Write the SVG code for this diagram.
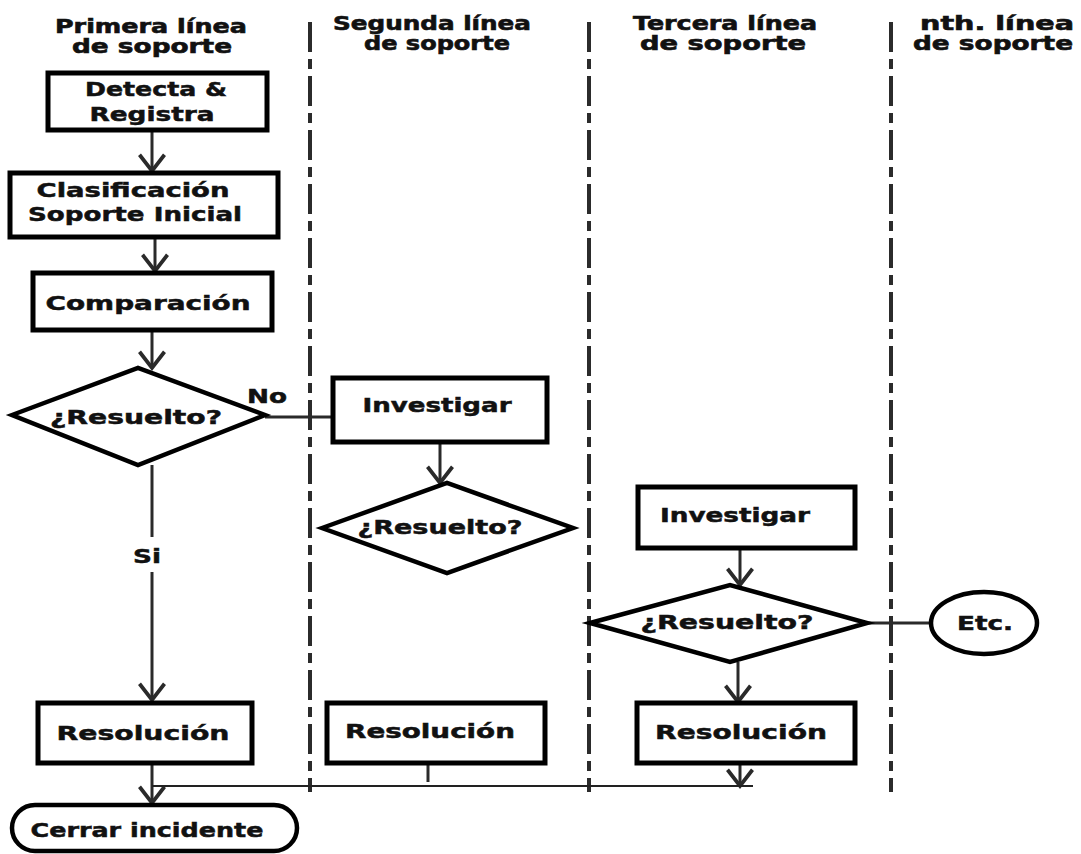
<svg xmlns="http://www.w3.org/2000/svg" width="1081" height="854" viewBox="0 0 1081 854">
  <style>
    .lane { stroke: #2b2b2b; stroke-width: 4; stroke-dasharray: 30 7 10 7; fill: none; }
    .hdr { font-family: "DejaVu Sans", "Liberation Sans", sans-serif; font-weight: bold; font-size: 19px; fill: #111; stroke: #111; stroke-width: 0.6; text-anchor: middle; }
    .lbl { font-family: "DejaVu Sans", "Liberation Sans", sans-serif; font-weight: bold; font-size: 20px; fill: #111; stroke: #111; stroke-width: 0.5; text-anchor: middle; }
    .box { fill: #fff; stroke: #000; stroke-width: 5; }
    .dia { fill: #fff; stroke: #000; stroke-width: 4.5; stroke-linejoin: miter; }
    .flow { stroke: #2a2a2a; stroke-width: 3; fill: none; }
    .thin { stroke: #222; stroke-width: 2; fill: none; }
  </style>
  <defs>
    <marker id="vhead" markerUnits="userSpaceOnUse" markerWidth="30" markerHeight="30" refX="0" refY="0" viewBox="-16 -12 20 24" orient="auto">
      <path d="M -13,-10 L 0,0 L -13,10" fill="none" stroke="#2a2a2a" stroke-width="3"/>
    </marker>
  </defs>

  <rect width="1081" height="854" fill="#fff"/>

  <!-- swimlane separators -->
  <g id="lanes">
    <line class="lane" x1="310" y1="22" x2="310" y2="792"/>
    <line class="lane" x1="589" y1="22" x2="589" y2="792"/>
    <line class="lane" x1="891" y1="22" x2="891" y2="792"/>
  </g>

  <!-- lane headers -->
  <g id="headers">
    <text class="hdr" x="151" y="33" textLength="192" lengthAdjust="spacingAndGlyphs">Primera línea</text>
    <text class="hdr" x="152" y="53" textLength="160" lengthAdjust="spacingAndGlyphs">de soporte</text>
    <text class="hdr" x="432" y="30" textLength="198" lengthAdjust="spacingAndGlyphs">Segunda línea</text>
    <text class="hdr" x="437" y="50" textLength="146" lengthAdjust="spacingAndGlyphs">de soporte</text>
    <text class="hdr" x="725" y="30" textLength="184" lengthAdjust="spacingAndGlyphs">Tercera línea</text>
    <text class="hdr" x="723" y="50" textLength="166" lengthAdjust="spacingAndGlyphs">de soporte</text>
    <text class="hdr" x="997" y="30" textLength="154" lengthAdjust="spacingAndGlyphs">nth. línea</text>
    <text class="hdr" x="993" y="50" textLength="160" lengthAdjust="spacingAndGlyphs">de soporte</text>
  </g>

  <!-- connectors -->
  <g id="connectors">
    <line class="flow" x1="152" y1="130" x2="152" y2="171" marker-end="url(#vhead)"/>
    <line class="flow" x1="155" y1="237" x2="155" y2="271" marker-end="url(#vhead)"/>
    <line class="flow" x1="152" y1="330" x2="152" y2="368" marker-end="url(#vhead)"/>
    <line class="flow" x1="265" y1="417" x2="333" y2="417"/>
    <line class="flow" x1="152" y1="465" x2="152" y2="537"/>
    <line class="flow" x1="152" y1="572" x2="152" y2="700" marker-end="url(#vhead)"/>
    <line class="flow" x1="440" y1="442" x2="440" y2="483" marker-end="url(#vhead)"/>
    <line class="flow" x1="740" y1="548" x2="740" y2="585" marker-end="url(#vhead)"/>
    <line class="flow" x1="867" y1="623" x2="930" y2="623"/>
    <line class="flow" x1="738" y1="662" x2="738" y2="702" marker-end="url(#vhead)"/>
    <line class="flow" x1="152" y1="763" x2="152" y2="803" marker-end="url(#vhead)"/>
    <line class="flow" x1="428" y1="763" x2="428" y2="782"/>
    <line class="flow" x1="740" y1="763" x2="740" y2="786" marker-end="url(#vhead)"/>
    <line class="thin" x1="152" y1="786" x2="753" y2="786"/>
    <text class="lbl" x="267" y="403" textLength="40" lengthAdjust="spacingAndGlyphs">No</text>
    <text class="lbl" x="147" y="563" textLength="28" lengthAdjust="spacingAndGlyphs">Si</text>
  </g>

  <g id="detecta">
    <rect class="box" x="48" y="73" width="219" height="57"/>
    <text class="lbl" x="156" y="96" textLength="142" lengthAdjust="spacingAndGlyphs">Detecta &amp;</text>
    <text class="lbl" x="152" y="121" textLength="125" lengthAdjust="spacingAndGlyphs">Registra</text>
  </g>

  <g id="clasificacion">
    <rect class="box" x="10" y="173" width="268" height="64"/>
    <text class="lbl" x="133" y="197" textLength="193" lengthAdjust="spacingAndGlyphs">Clasificación</text>
    <text class="lbl" x="135" y="221" textLength="214" lengthAdjust="spacingAndGlyphs">Soporte Inicial</text>
  </g>

  <g id="comparacion">
    <rect class="box" x="33" y="273" width="239" height="57"/>
    <text class="lbl" x="148" y="310" textLength="205" lengthAdjust="spacingAndGlyphs">Comparación</text>
  </g>

  <g id="resuelto1">
    <polygon class="dia" points="12,415 138,368 265,415 138,465"/>
    <text class="lbl" x="136" y="424" textLength="172" lengthAdjust="spacingAndGlyphs">¿Resuelto?</text>
  </g>

  <g id="investigar2">
    <rect class="box" x="333" y="378" width="214" height="64"/>
    <text class="lbl" x="437" y="412" textLength="149" lengthAdjust="spacingAndGlyphs">Investigar</text>
  </g>

  <g id="resuelto2">
    <polygon class="dia" points="322,528 447,483 573,528 447,573"/>
    <text class="lbl" x="440" y="534" textLength="165" lengthAdjust="spacingAndGlyphs">¿Resuelto?</text>
  </g>

  <g id="investigar3">
    <rect class="box" x="638" y="487" width="217" height="61"/>
    <text class="lbl" x="735" y="522" textLength="150" lengthAdjust="spacingAndGlyphs">Investigar</text>
  </g>

  <g id="resuelto3">
    <polygon class="dia" points="590,623 730,585 867,623 730,662"/>
    <text class="lbl" x="727" y="629" textLength="173" lengthAdjust="spacingAndGlyphs">¿Resuelto?</text>
  </g>

  <g id="etc">
    <ellipse cx="984" cy="623" rx="53" ry="31" fill="#fff" stroke="#000" stroke-width="4.5"/>
    <text class="lbl" x="985" y="630" textLength="56" lengthAdjust="spacingAndGlyphs">Etc.</text>
  </g>

  <g id="resolucion1">
    <rect class="box" x="38" y="703" width="214" height="60"/>
    <text class="lbl" x="143" y="740" textLength="173" lengthAdjust="spacingAndGlyphs">Resolución</text>
  </g>

  <g id="resolucion2">
    <rect class="box" x="327" y="703" width="218" height="60"/>
    <text class="lbl" x="430" y="738" textLength="170" lengthAdjust="spacingAndGlyphs">Resolución</text>
  </g>

  <g id="resolucion3">
    <rect class="box" x="637" y="703" width="218" height="60"/>
    <text class="lbl" x="741" y="739" textLength="172" lengthAdjust="spacingAndGlyphs">Resolución</text>
  </g>

  <g id="cerrar">
    <rect x="12" y="805" width="285" height="46" rx="23" ry="23" fill="#fff" stroke="#000" stroke-width="4.5"/>
    <text class="lbl" x="147" y="837" textLength="233" lengthAdjust="spacingAndGlyphs">Cerrar incidente</text>
  </g>
</svg>
